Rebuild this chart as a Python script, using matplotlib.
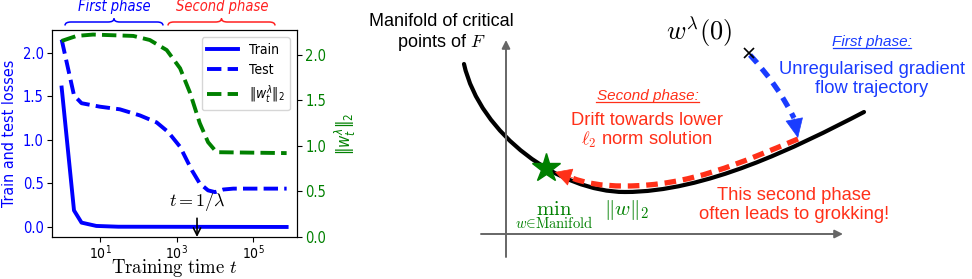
import numpy as np
import matplotlib
matplotlib.use("Agg")
import matplotlib.pyplot as plt
from matplotlib.path import Path
from matplotlib.patches import PathPatch
from matplotlib.ticker import NullLocator

# --- data ---
t_train = [1, 2.1, 3.3, 8, 30, 7.4e5]
train_loss = [1.6, 0.19, 0.05, 0.012, 0.003, 0.0]

t_test = [1, 2.1, 3.3, 10, 33, 110, 300, 600, 1230, 2500, 4000, 6600, 1e4, 1.66e4, 3e4, 7.4e5]
test_loss = [2.15, 1.51, 1.42, 1.38, 1.35, 1.28, 1.20, 1.09, 0.92, 0.65, 0.50, 0.42, 0.40, 0.43, 0.44, 0.44]

t_norm = [1, 2.45, 6.6, 74, 200, 550, 1230, 2240, 4000, 6600, 1.1e4, 7.4e5]
w_norm = [2.15, 2.205, 2.22, 2.205, 2.16, 2.05, 1.85, 1.58, 1.25, 1.04, 0.93, 0.92]

t_lambda = 3400
x_ticks = [10, 1e3, 1e5]
loss_ticks = [0.0, 0.5, 1.0, 1.5, 2.0]
norm_ticks = [0.0, 0.5, 1.0, 1.5, 2.0]

RED = "#ff3019"
BLUE = "#1a3cff"

plt.rcParams["font.family"] = "DejaVu Sans"
plt.rcParams["font.stretch"] = "condensed"

fig = plt.figure(figsize=(9.72, 2.79), dpi=100)

# ---------------- left panel ----------------
ax = fig.add_axes([52 / 972, 42 / 279, 245 / 972, 207 / 279])
l1, = ax.plot(t_train, train_loss, color="blue", lw=2.8, label="Train")
l2, = ax.plot(t_test, test_loss, color="blue", lw=2.8, ls="--", label="Test")
ax.set_xscale("log")
ax.set_xlim(0.56, 1.38e6)
ax.set_ylim(-0.115, 2.26)
ax.set_xticks(x_ticks)
ax.xaxis.set_minor_locator(NullLocator())
ax.set_yticks(loss_ticks)
ax.tick_params(axis="y", labelcolor="blue", labelsize=10.5, pad=2.5)
ax.tick_params(axis="x", labelsize=10, pad=1)
ax.set_ylabel("Train and test losses", color="blue", fontsize=11.5)
ax.yaxis.set_label_coords(-0.142, 0.5)
ax.set_xlabel(r"$\mathrm{Training\ time}\ t$", fontsize=13.5, math_fontfamily="cm",
              va="baseline")
ax.xaxis.set_label_coords(0.5, -0.176)

ax2 = ax.twinx()
l3, = ax2.plot(t_norm, w_norm, color="green", lw=2.8, ls="--", label=r"$\|w_t^\lambda\|_2$")
ax2.set_ylim(0, 2.27)
ax2.set_yticks(norm_ticks)
ax2.tick_params(axis="y", labelcolor="green", labelsize=10.5, pad=2.5)
ax2.set_ylabel(r"$\|w_t^\lambda\|_2$", color="green", fontsize=12)
ax2.yaxis.set_label_coords(1.145, 0.5)
ax2.legend(handles=[l1, l2, l3], loc="upper right", fontsize=10,
           handlelength=2.2, borderaxespad=0.5, labelspacing=0.45)

ax.annotate(r"$t=1/\lambda$", xy=(t_lambda, -0.115), xytext=(t_lambda, 0.29),
            ha="center", va="center", fontsize=13, math_fontfamily="cm",
            arrowprops=dict(arrowstyle="->", color="black", lw=1.2, shrinkA=2, shrinkB=0))

# ---------------- overlay (pixel coordinates) ----------------
ov = fig.add_axes([0, 0, 1, 1])
ov.set_xlim(0, 972)
ov.set_ylim(279, 0)
ov.axis("off")


def brace(x0, x1, y, h, color):
    xm = (x0 + x1) / 2
    q = 6
    verts = [(x0, y + h), (x0, y), (x0 + q, y), (xm - q, y), (xm, y), (xm, y - h),
             (xm, y), (xm + q, y), (x1 - q, y), (x1, y), (x1, y + h)]
    codes = [Path.MOVETO, Path.CURVE3, Path.CURVE3, Path.LINETO, Path.CURVE3, Path.CURVE3,
             Path.CURVE3, Path.CURVE3, Path.LINETO, Path.CURVE3, Path.CURVE3]
    ov.add_patch(PathPatch(Path(verts, codes), fill=False, ec=color, lw=1.1))


brace(65, 163, 22, 3.5, "blue")
brace(168, 275, 22, 3.5, "#ff2020")
ov.text(114, 7, "First phase", color="blue", style="italic", fontsize=10.5,
        ha="center", va="center")
ov.text(222, 7, "Second phase", color="#ff2020", style="italic", fontsize=10.5,
        ha="center", va="center")

# ---------------- right schematic ----------------
sans = dict(family="Liberation Sans", stretch="normal")
gray = "#666666"
ov.annotate("", xy=(506, 40), xytext=(506, 257),
            arrowprops=dict(arrowstyle="-|>", color=gray, lw=1.4, mutation_scale=12,
                            shrinkA=0, shrinkB=0))
ov.annotate("", xy=(843, 234), xytext=(481, 234),
            arrowprops=dict(arrowstyle="-|>", color=gray, lw=1.4, mutation_scale=12,
                            shrinkA=0, shrinkB=0))

C4 = Path.CURVE4
manifold = Path([(464, 64), (480, 135), (560, 192), (625, 192), (705, 192), (795, 148), (864, 112)],
                [Path.MOVETO, C4, C4, C4, C4, C4, C4])
ov.add_patch(PathPatch(manifold, fill=False, ec="black", lw=3, capstyle="round"))

drift = Path([(798, 139), (740, 163), (690, 186), (625, 186), (600, 186), (585, 183), (572, 178)],
             [Path.MOVETO, C4, C4, C4, C4, C4, C4])
ov.add_patch(PathPatch(drift, fill=False, ec=RED, lw=3.8, ls=(0, (2.2, 1.3)), capstyle="butt"))
ov.annotate("", xy=(555, 172), xytext=(573, 178),
            arrowprops=dict(arrowstyle="-|>,head_length=0.55,head_width=0.3", color=RED,
                            lw=0.5, mutation_scale=20, shrinkA=0, shrinkB=0))

flow = Path([(750, 55), (778, 85), (794, 118)], [Path.MOVETO, Path.CURVE3, Path.CURVE3])
ov.add_patch(PathPatch(flow, fill=False, ec=BLUE, lw=3.8, ls=(0, (2.0, 1.4)), capstyle="butt"))
ov.annotate("", xy=(798, 138), xytext=(794, 118),
            arrowprops=dict(arrowstyle="-|>,head_length=0.65,head_width=0.3", color=BLUE,
                            lw=0.5, mutation_scale=20, shrinkA=0, shrinkB=0))

ov.plot([749], [53], marker="x", ms=7, mew=1.2, color="black")
ov.plot([546], [168], marker="*", ms=21, color="green")

ov.text(441, 33, "Manifold of critical\npoints of $F$", ha="center", va="center",
        fontsize=13, linespacing=1.15, math_fontfamily="cm", **sans)
ov.text(699, 32, r"$w^\lambda(0)$", ha="center", va="center", fontsize=19,
        math_fontfamily="cm")
ov.text(872, 42, "First phase:", color=BLUE, style="italic", ha="center", va="center",
        fontsize=11, **sans)
ov.plot([833, 911], [48, 48], color=BLUE, lw=0.9)
ov.text(872, 79, "Unregularised gradient\nflow trajectory", color=BLUE, ha="center",
        va="center", fontsize=13.2, linespacing=1.1, **sans)
ov.text(648, 96, "Second phase:", color=RED, style="italic", ha="center", va="center",
        fontsize=11, **sans)
ov.plot([596, 699], [102, 102], color=RED, lw=0.9)
ov.text(647, 131, "Drift towards lower\n$\\ell_2$ norm solution", color=RED, ha="center",
        va="center", fontsize=13.2, linespacing=1.1, math_fontfamily="cm", **sans)
ov.text(794, 205, "This second phase\noften leads to grokking!", color=RED, ha="center",
        va="center", fontsize=13.2, linespacing=1.1, **sans)
ov.text(554, 199, r"$\min_{w\in\mathrm{Manifold}}$", color="green", ha="center", va="top",
        fontsize=15, math_fontfamily="cm")
ov.text(627, 210, r"$\|w\|_2$", color="green", ha="center", va="center", fontsize=15,
        math_fontfamily="cm")

fig.savefig("out.png", dpi=100)
